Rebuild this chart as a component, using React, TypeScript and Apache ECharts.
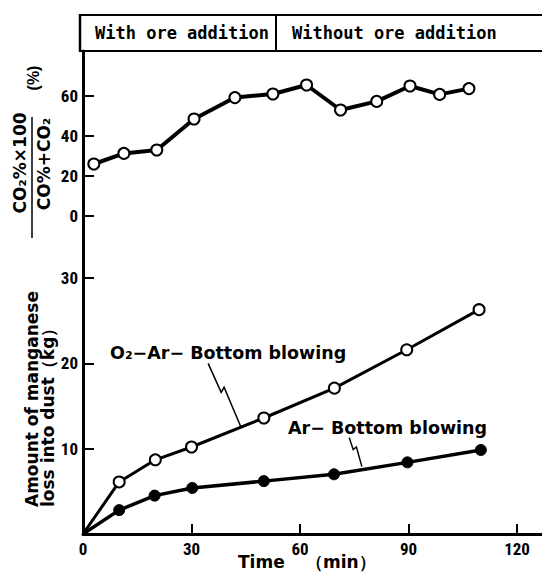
import React, { useEffect, useRef } from "react";
import * as echarts from "echarts";

// Top panel: CO2 ratio (%) vs time (min)
const timeTop = [3, 11.3, 20.4, 30.7, 42, 52.5, 61.8, 71.2, 81.2, 90.4, 98.6, 106.7];
const co2Ratio = [26, 31.3, 33, 48.5, 59.2, 61, 65.5, 53, 57.3, 65, 60.8, 63.7];

// Bottom panel: Mn loss into dust (kg)
const timeO2 = [0, 10, 20, 30, 50, 69.5, 89.5, 109.5];
const mnO2 = [0, 6.1, 8.7, 10.2, 13.6, 17.1, 21.6, 26.3];
const timeAr = [0, 10, 19.8, 30.2, 50, 69.4, 89.7, 110];
const mnAr = [0, 2.8, 4.5, 5.4, 6.2, 7.0, 8.4, 9.85];

const xTickLabels = [0, 30, 60, 90, 120];
const xTicks = [30, 60, 90, 120];
const topYTicks = [0, 20, 40, 60];
const bottomYTicks = [10, 20, 30];

// leader lines (data coordinates, bottom panel)
const leaderO2 = [[34.6, 20.0], [38.2, 16.6], [39.0, 17.2], [43.6, 12.6]];
const leaderAr = [[73.6, 11.3], [74.7, 9.9], [75.6, 10.2], [77.1, 7.9]];

const numFont = "'Liberation Sans Narrow', 'Roboto Condensed', 'Liberation Sans', Arial, sans-serif";
const boldFont = "'DejaVu Sans', 'Noto Sans', sans-serif";
const monoFont = "'DejaVu Sans Mono', 'Liberation Mono', monospace";

function pts(t: number[], v: number[]) {
  return t.map((x, i) => (i === 0 && x === 0 ? { value: [x, v[i]], symbol: "none" } : [x, v[i]]));
}

export default function App() {
  const ref = useRef<HTMLDivElement>(null);
  useEffect(() => {
    document.body.style.margin = "0";
    const chart = echarts.init(ref.current!, undefined, { renderer: "svg" });
    const axisLineStyle = { color: "#000", width: 3 };
    const tickStyle = { color: "#000", width: 2 };
    const labelStyle = { color: "#000", fontFamily: numFont, fontWeight: "bold" as const, fontSize: 17 };
    const option: any = {
      animation: false,
      backgroundColor: "#fff",
      grid: [
        { left: 83, top: 51, width: 459, height: 189 },
        { left: 83, top: 240, width: 459, height: 294 },
      ],
      xAxis: [
        { type: "value", gridIndex: 0, min: 0, max: 126.9, show: false, splitLine: { show: false } },
        {
          type: "value", gridIndex: 1, min: 0, max: 126.9,
          axisLine: { lineStyle: axisLineStyle },
          axisTick: { inside: true, length: 10, lineStyle: tickStyle, customValues: xTicks },
          axisLabel: { ...labelStyle, margin: 6, customValues: xTickLabels },
          splitLine: { show: false },
        },
      ],
      yAxis: [
        {
          type: "value", gridIndex: 0, min: -12, max: 82.5,
          axisLine: { show: true, lineStyle: axisLineStyle },
          axisTick: { show: true, inside: true, length: 11, lineStyle: tickStyle, customValues: topYTicks },
          axisLabel: { ...labelStyle, margin: 5, customValues: topYTicks },
          splitLine: { show: false },
        },
        {
          type: "value", gridIndex: 1, min: 0, max: 34.47,
          axisLine: { show: true, lineStyle: axisLineStyle },
          axisTick: { show: true, inside: true, length: 11, lineStyle: tickStyle, customValues: bottomYTicks },
          axisLabel: { ...labelStyle, margin: 5, customValues: bottomYTicks },
          splitLine: { show: false },
        },
      ],
      series: [
        {
          type: "line", xAxisIndex: 0, yAxisIndex: 0, data: pts(timeTop, co2Ratio),
          symbol: "circle", symbolSize: 11,
          lineStyle: { color: "#000", width: 4 },
          itemStyle: { color: "#fff", borderColor: "#000", borderWidth: 2 },
        },
        {
          type: "line", xAxisIndex: 1, yAxisIndex: 1, data: pts(timeO2, mnO2),
          symbol: "circle", symbolSize: 11,
          lineStyle: { color: "#000", width: 3 },
          itemStyle: { color: "#fff", borderColor: "#000", borderWidth: 2 },
        },
        {
          type: "line", xAxisIndex: 1, yAxisIndex: 1, data: pts(timeAr, mnAr),
          symbol: "circle", symbolSize: 11,
          lineStyle: { color: "#000", width: 3.5 },
          itemStyle: { color: "#000", borderColor: "#000", borderWidth: 1 },
        },
      ],
    };
    chart.setOption(option);

    const toPx = (p: number[]) => chart.convertToPixel({ gridIndex: 1 }, p) as number[];
    const txt = (text: string, x: number, y: number, o: any = {}) => ({
      type: "text", x, y, rotation: o.rotation || 0, silent: true,
      style: {
        text, fill: "#000", fontFamily: o.fontFamily || boldFont, fontWeight: "bold",
        fontSize: o.fontSize || 17, align: o.align || "left", verticalAlign: "middle",
      },
    });
    const ln = (x1: number, y1: number, x2: number, y2: number, w = 2) => ({
      type: "line", silent: true, shape: { x1, y1, x2, y2 }, style: { stroke: "#000", lineWidth: w },
    });

    const graphic: any[] = [
      // header box
      ln(80, 15, 542, 15, 2),
      ln(80, 51, 542, 51, 2),
      ln(80, 14, 80, 52, 2.5),
      ln(276, 15, 276, 51, 2),
      txt("With ore addition", 95, 33, { fontFamily: monoFont, fontSize: 17 }),
      txt("Without ore addition", 292, 33, { fontFamily: monoFont, fontSize: 17 }),
      // top y label (fraction)
      txt("CO₂%×100", 20, 163, { rotation: Math.PI / 2, align: "center", fontSize: 17 }),
      ln(32, 117, 32, 238, 1.5),
      txt("CO%+CO₂", 44, 164, { rotation: Math.PI / 2, align: "center", fontSize: 17 }),
      txt("(%)", 33, 78, { rotation: Math.PI / 2, align: "center", fontSize: 16, fontFamily: "'Liberation Sans', Arial, sans-serif" }),
      // bottom y label
      txt("Amount of manganese", 32, 507, { rotation: Math.PI / 2, fontSize: 17 }),
      txt("loss into dust（kg）", 48, 507, { rotation: Math.PI / 2, fontSize: 17 }),
      // x axis name
      txt("Time", 238, 562, { fontSize: 17 }),
      txt("（min）", 306, 562, { fontSize: 17 }),
      // series labels
      txt("O₂−Ar− Bottom blowing", 110, 353, { fontSize: 17.5 }),
      txt("Ar− Bottom blowing", 288, 428, { fontSize: 17.5 }),
      {
        type: "polyline", silent: true, shape: { points: leaderO2.map(toPx) },
        style: { stroke: "#000", lineWidth: 1.5, fill: "none" },
      },
      {
        type: "polyline", silent: true, shape: { points: leaderAr.map(toPx) },
        style: { stroke: "#000", lineWidth: 1.5, fill: "none" },
      },
    ];
    chart.setOption({ graphic });
    return () => chart.dispose();
  }, []);
  return <div ref={ref} style={{ width: 542, height: 572 }} />;
}
